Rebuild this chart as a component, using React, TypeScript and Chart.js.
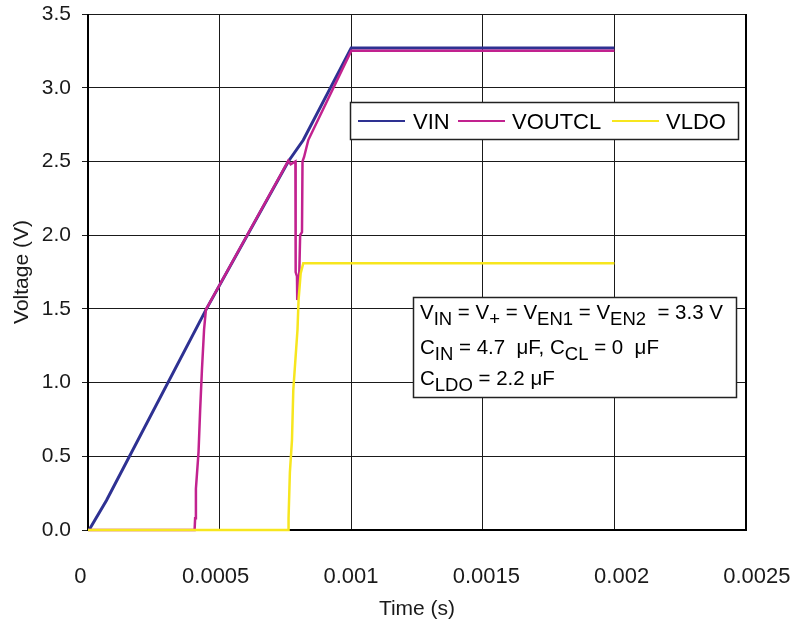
import React, { useEffect, useRef } from 'react';
import { Chart, registerables } from 'chart.js';

Chart.register(...registerables);

// ---- data ----
const VIN_T = [0.000004, 0.00007, 0.00045, 0.000761, 0.000818, 0.001, 0.002];
const VIN_V = [0, 0.2, 1.5, 2.5, 2.645, 3.27, 3.27];

const VOUTCL_T = [0, 0.000405, 0.000407, 0.00041, 0.00042, 0.000426, 0.000433, 0.000441, 0.000448, 0.00073, 0.000761, 0.00077, 0.000788, 0.000789, 0.000794, 0.000795, 0.000799, 0.000803, 0.000806, 0.000813, 0.000815, 0.000821, 0.000837, 0.001, 0.002];
const VOUTCL_V = [0, 0, 0.08, 0.28, 0.53, 0.81, 1.09, 1.36, 1.494, 2.403, 2.505, 2.48, 2.5, 1.75, 1.72, 1.56, 1.6, 1.76, 2.0, 2.02, 2.5, 2.53, 2.645, 3.25, 3.25];

const VLDO_T = [0, 0.000761, 0.000762, 0.000767, 0.000775, 0.00078, 0.000796, 0.0008, 0.000808, 0.000818, 0.002];
const VLDO_V = [0, 0, 0.08, 0.39, 0.61, 0.95, 1.36, 1.56, 1.74, 1.81, 1.81];

const SERIES_NAMES = ['VIN', 'VOUTCL', 'VLDO'];
const SERIES_COLORS = ['#2E3192', '#C2228F', '#F7E61E'];
const SERIES_WIDTHS = [3, 2.5, 2.5];

const X_TICKS = [0, 0.0005, 0.001, 0.0015, 0.002, 0.0025];
const Y_TICKS = [0, 0.5, 1, 1.5, 2, 2.5, 3, 3.5];

const NOTE_LINES: [string, boolean][][] = [
  [['V', false], ['IN', true], [' = V', false], ['+', true], [' = V', false], ['EN1', true], [' = V', false], ['EN2', true], ['  = 3.3 V', false]],
  [['C', false], ['IN', true], [' = 4.7  \u03BCF, C', false], ['CL', true], [' = 0  \u03BCF', false]],
  [['C', false], ['LDO', true], [' = 2.2 \u03BCF', false]],
];

const FONT = "'Liberation Sans', Arial, Helvetica, sans-serif";

// label axis range (labels are spread slightly wider than the grid in the original)
const X2_MIN = 0.0000281;
const X2_MAX = 0.0024597;

const pts = (t: number[], v: number[]) => t.map((x, i) => ({ x, y: v[i] }));

const decorPlugin = {
  id: 'decor',
  beforeDatasetsDraw(chart: any) {
    const { ctx, chartArea: a } = chart;
    ctx.save();
    ctx.strokeStyle = '#000';
    ctx.lineWidth = 2;
    ctx.beginPath();
    ctx.moveTo(a.left, a.top);
    ctx.lineTo(a.left, a.bottom);
    ctx.lineTo(a.right, a.bottom);
    ctx.lineTo(a.right, a.top);
    ctx.stroke();
    ctx.restore();
  },
  afterDraw(chart: any) {
    const { ctx } = chart;
    ctx.save();
    // legend box
    ctx.fillStyle = '#fff';
    ctx.fillRect(350, 102, 389, 38);
    ctx.strokeStyle = '#222';
    ctx.lineWidth = 1.5;
    ctx.strokeRect(350.5, 102.5, 388, 37);
    const lineStarts = [358, 458, 612];
    const textStarts = [413, 512, 666];
    ctx.font = `22px ${FONT}`;
    ctx.textBaseline = 'alphabetic';
    ctx.textAlign = 'left';
    SERIES_NAMES.forEach((n, i) => {
      ctx.strokeStyle = SERIES_COLORS[i];
      ctx.lineWidth = 2;
      ctx.beginPath();
      ctx.moveTo(lineStarts[i], 121);
      ctx.lineTo(lineStarts[i] + 47, 121);
      ctx.stroke();
      ctx.fillStyle = '#000';
      ctx.fillText(n, textStarts[i], 129);
    });
    // note box
    ctx.fillStyle = '#fff';
    ctx.fillRect(413, 297, 324, 101);
    ctx.strokeStyle = '#222';
    ctx.lineWidth = 1.5;
    ctx.strokeRect(413.5, 297.5, 323, 100);
    const baselines = [319, 354, 385];
    ctx.fillStyle = '#000';
    NOTE_LINES.forEach((segs, li) => {
      let x = 420;
      segs.forEach(([txt, sub]) => {
        ctx.font = sub ? `18.5px ${FONT}` : `20.5px ${FONT}`;
        ctx.fillText(txt, x, baselines[li] + (sub ? 6 : 0));
        x += ctx.measureText(txt).width;
      });
    });
    ctx.restore();
  },
};

export default function App() {
  const ref = useRef<HTMLCanvasElement>(null);
  useEffect(() => {
    const canvas = ref.current!;
    const series = [pts(VIN_T, VIN_V), pts(VOUTCL_T, VOUTCL_V), pts(VLDO_T, VLDO_V)];
    const chart = new Chart(canvas, {
      type: 'line',
      data: {
        datasets: series.map((d, i) => ({
          label: SERIES_NAMES[i],
          data: d,
          borderColor: SERIES_COLORS[i],
          backgroundColor: SERIES_COLORS[i],
          borderWidth: SERIES_WIDTHS[i],
          pointRadius: 0,
          tension: 0,
          fill: false,
          clip: 4,
          order: 3 - i,
          xAxisID: 'x',
          yAxisID: 'y',
        })),
      },
      options: {
        responsive: false,
        animation: false,
        devicePixelRatio: 1,
        layout: { padding: { left: 0, right: 49, top: 14, bottom: 0 } },
        plugins: { legend: { display: false }, tooltip: { enabled: false } },
        scales: {
          x: {
            type: 'linear',
            position: 'bottom',
            weight: 0,
            min: 0,
            max: 0.0025,
            afterBuildTicks: (s: any) => { s.ticks = X_TICKS.map((v) => ({ value: v })); },
            ticks: { display: false },
            grid: { color: '#1a1a1a', lineWidth: 1, drawTicks: false },
            border: { display: false },
            afterFit: (s: any) => { s.height = 0; s.paddingLeft = 0; s.paddingRight = 0; },
          },
          x2: {
            type: 'linear',
            position: 'bottom',
            weight: 1,
            min: X2_MIN,
            max: X2_MAX,
            afterBuildTicks: (s: any) => { s.ticks = X_TICKS.map((v) => ({ value: v })); },
            grid: { display: false, drawTicks: false },
            border: { display: false },
            ticks: {
              autoSkip: false,
              maxRotation: 0,
              padding: 34,
              color: '#1a1a1a',
              font: { family: FONT, size: 22 },
              callback: (v: any) => String(+(+v).toFixed(4)),
            },
            title: {
              display: true,
              text: 'Time (s)',
              color: '#1a1a1a',
              font: { family: FONT, size: 21 },
              padding: { top: 0, bottom: 14 },
            },
            afterFit: (s: any) => { s.height = 106; s.paddingLeft = 0; s.paddingRight = 0; },
          },
          y: {
            type: 'linear',
            position: 'left',
            min: 0,
            max: 3.5,
            afterBuildTicks: (s: any) => { s.ticks = Y_TICKS.map((v) => ({ value: v })); },
            ticks: {
              padding: 11,
              color: '#1a1a1a',
              font: { family: FONT, size: 21 },
              callback: (v: any) => (+v).toFixed(1),
            },
            grid: { color: '#1a1a1a', lineWidth: 1, tickLength: 6, tickColor: '#1a1a1a' },
            border: { display: false },
            title: {
              display: true,
              text: 'Voltage (V)',
              color: '#1a1a1a',
              font: { family: FONT, size: 21 },
              padding: { top: 10, bottom: 0 },
            },
            afterFit: (s: any) => { s.width = 88; s.paddingTop = 0; s.paddingBottom = 0; },
          },
        },
      },
      plugins: [decorPlugin],
    } as any);
    return () => chart.destroy();
  }, []);
  return (
    <div style={{ position: 'absolute', left: 0, top: 0, width: 795, height: 636, background: '#fff' }}>
      <canvas ref={ref} width={795} height={636} style={{ display: 'block' }} />
    </div>
  );
}
